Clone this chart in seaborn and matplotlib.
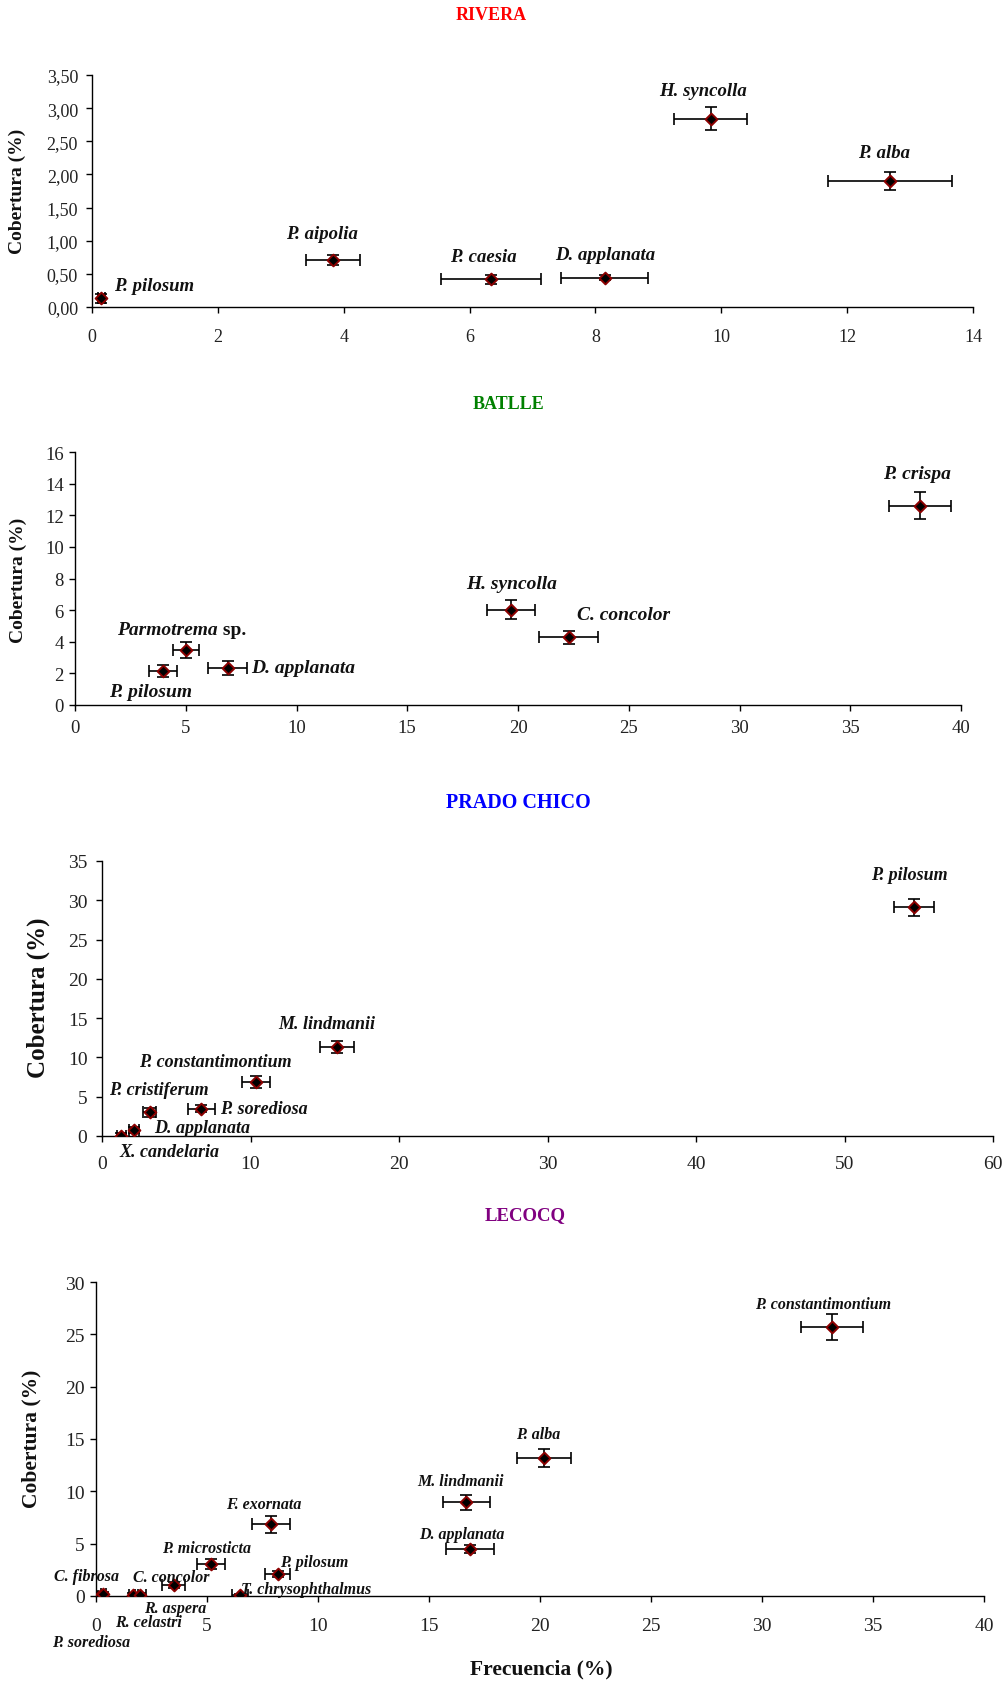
import numpy as np
import pandas as pd
import matplotlib
matplotlib.use("Agg")
import matplotlib.pyplot as plt
import seaborn as sns

# ---------------- data ----------------
riv_species = ["P. pilosum", "P. aipolia", "P. caesia", "D. applanata", "H. syncolla", "P. alba"]
riv_freq = [0.15, 3.83, 6.34, 8.15, 9.83, 12.68]
riv_freq_err = [0.05, 0.43, 0.80, 0.69, 0.58, 0.98]
riv_cov = [0.13, 0.71, 0.42, 0.44, 2.84, 1.90]
riv_cov_err = [0.07, 0.07, 0.07, 0.04, 0.17, 0.13]

bat_species = ["P. pilosum", "Parmotrema sp.", "D. applanata", "H. syncolla", "C. concolor", "P. crispa"]
bat_freq = [3.97, 5.01, 6.90, 19.69, 22.28, 38.13]
bat_freq_err = [0.64, 0.60, 0.88, 1.10, 1.35, 1.40]
bat_cov = [2.17, 3.47, 2.34, 6.03, 4.29, 12.60]
bat_cov_err = [0.37, 0.52, 0.42, 0.61, 0.41, 0.84]

pc_species = ["X. candelaria", "D. applanata", "P. cristiferum", "P. sorediosa",
              "P. constantimontium", "M. lindmanii", "P. pilosum"]
pc_freq = [1.30, 2.15, 3.20, 6.70, 10.35, 15.81, 54.69]
pc_freq_err = [0.30, 0.35, 0.45, 0.90, 0.95, 1.15, 1.36]
pc_cov = [0.05, 0.80, 3.00, 3.50, 6.90, 11.35, 29.10]
pc_cov_err = [0.30, 0.40, 0.58, 0.50, 0.77, 0.80, 1.10]

lec_species = ["P. sorediosa", "C. fibrosa", "R. celastri", "R. aspera", "C. concolor",
               "P. microsticta", "T. chrysophthalmus", "F. exornata", "P. pilosum",
               "M. lindmanii", "D. applanata", "P. alba", "P. constantimontium"]
lec_freq = [0.18, 0.33, 1.68, 2.00, 3.50, 5.18, 6.49, 7.87, 8.18, 16.68, 16.85, 20.17, 33.15]
lec_freq_err = [0.10, 0.12, 0.20, 0.25, 0.51, 0.64, 0.37, 0.86, 0.58, 1.06, 1.10, 1.21, 1.40]
lec_cov = [0.02, 0.15, 0.10, 0.12, 1.06, 3.05, 0.05, 6.85, 2.10, 8.96, 4.49, 13.16, 25.66]
lec_cov_err = [0.10, 0.25, 0.15, 0.15, 0.30, 0.47, 0.10, 0.79, 0.30, 0.73, 0.35, 0.87, 1.24]

titles = ["RIVERA", "BATLLE", "PRADO CHICO", "LECOCQ"]
y_label = "Cobertura (%)"
x_label = "Frecuencia (%)"

# ---------------- layout / style ----------------
# label offsets in pixels (dx, dy up, ha)
riv_lab = [(13, 13, 'left'), (-11, 26, 'center'), (-8, 23, 'center'), (0, 23, 'center'),
           (-8, 28, 'center'), (-6, 29, 'center')]
bat_lab = [(-12, -21, 'center'), (-69, 21, 'left'), (23, 0, 'left'), (0, 26, 'center'),
           (8, 23, 'left'), (-3, 32, 'center')]
pc_lab = [(-2, -16, 'left'), (20, 2, 'left'), (9, 23, 'center'), (19, 0, 'left'),
          (-40, 20, 'center'), (-10, 23, 'center'), (-5, 33, 'center')]
lec_lab = [(-9, -46, 'center'), (-17, 18, 'center'), (15, -27, 'center'), (35, -13, 'center'),
           (-2, 8, 'center'), (-4, 16, 'center'), (1, 6, 'left'), (-7, 20, 'center'),
           (2, 12, 'left'), (-6, 21, 'center'), (-8, 15, 'center'), (-6, 24, 'center'),
           (-9, 23, 'center')]

sns.set_theme(style="ticks")
plt.rcParams['font.family'] = ['Liberation Serif', 'DejaVu Serif']
plt.rcParams['axes.linewidth'] = 1.0

W, H = 1007, 1683
fig = plt.figure(figsize=(W / 100, H / 100), dpi=100)

def frac_box(l, r, t, b):
    return [l / W, 1 - b / H, (r - l) / W, (b - t) / H]

panels = [
    dict(box=frac_box(92, 973, 76, 308), xlim=(0, 14), xstep=2, ylim=(0, 3.5), ystep=0.5,
         fmt=lambda v: f"{v:.2f}".replace('.', ','), names=riv_species, x=riv_freq, xe=riv_freq_err,
         y=riv_cov, ye=riv_cov_err, lab=riv_lab, lsize=13.5, tsize=13, xpad=11, ypad=6,
         title_xy=(491, 15), tcolor="#FF0000", tfs=13, yl_xy=(17, 191), ylfs=14),
    dict(box=frac_box(75, 961, 453, 706), xlim=(0, 40), xstep=5, ylim=(0, 16), ystep=2,
         fmt=lambda v: f"{v:.0f}", names=bat_species, x=bat_freq, xe=bat_freq_err,
         y=bat_cov, ye=bat_cov_err, lab=bat_lab, lsize=14, tsize=13.5, xpad=6, ypad=4,
         title_xy=(509, 405), tcolor="#008000", tfs=13, yl_xy=(18, 580), ylfs=14),
    dict(box=frac_box(102, 993, 862, 1137), xlim=(0, 60), xstep=10, ylim=(0, 35), ystep=5,
         fmt=lambda v: f"{v:.0f}", names=pc_species, x=pc_freq, xe=pc_freq_err,
         y=pc_cov, ye=pc_cov_err, lab=pc_lab, lsize=13, tsize=14, xpad=10, ypad=6.5,
         title_xy=(518, 803), tcolor="#0000FF", tfs=14.5, yl_xy=(38, 998), ylfs=18),
    dict(box=frac_box(96, 984, 1283, 1597), xlim=(0, 40), xstep=5, ylim=(0, 30), ystep=5,
         fmt=lambda v: f"{v:.0f}", names=lec_species, x=lec_freq, xe=lec_freq_err,
         y=lec_cov, ye=lec_cov_err, lab=lec_lab, lsize=11.5, tsize=14, xpad=11, ypad=4,
         title_xy=(525, 1216), tcolor="#800080", tfs=13.5, yl_xy=(31, 1439), ylfs=15.5),
]

for p, title in zip(panels, titles):
    ax = fig.add_axes(p['box'])
    df = pd.DataFrame({"freq": p['x'], "cov": p['y'], "sp": p['names']})
    ax.errorbar(df["freq"], df["cov"], xerr=p['xe'], yerr=p['ye'], fmt='none',
                ecolor='black', elinewidth=1.2, capsize=4, capthick=1.2, zorder=2)
    sns.scatterplot(data=df, x="freq", y="cov", ax=ax, marker='D', s=36, color='black',
                    edgecolor='#8B0000', linewidth=1.4, zorder=3, legend=False)
    ax.set_xlim(*p['xlim'])
    ax.set_ylim(*p['ylim'])
    xt = np.arange(p['xlim'][0], p['xlim'][1] + 1e-9, p['xstep'])
    yt = np.arange(p['ylim'][0], p['ylim'][1] + 1e-9, p['ystep'])
    ax.set_xticks(xt)
    ax.set_xticklabels([f"{v:.0f}" for v in xt])
    ax.set_yticks(yt)
    ax.set_yticklabels([p['fmt'](v) for v in yt])
    ax.set_xlabel("")
    ax.set_ylabel("")
    for s in ['top', 'right']:
        ax.spines[s].set_visible(False)
    for s in ['left', 'bottom']:
        ax.spines[s].set_color('black')
    ax.tick_params(axis='x', direction='out', length=4, width=1, colors='black',
                   labelsize=p['tsize'], pad=p['xpad'], labelcolor='#222222')
    ax.tick_params(axis='y', direction='out', length=4, width=1, colors='black',
                   labelsize=p['tsize'], pad=p['ypad'], labelcolor='#222222')
    for name, x, y, (dx, dy, ha) in zip(p['names'], p['x'], p['y'], p['lab']):
        if name.endswith(" sp."):
            t = ax.annotate(name[:-4], (x, y), xytext=(dx * 0.72, dy * 0.72),
                            textcoords='offset points', ha=ha, va='center',
                            fontsize=p['lsize'], fontweight='bold', fontstyle='italic',
                            color='#111111', annotation_clip=False)
            ax.annotate(" sp.", xy=(1, 0), xycoords=t, ha='left', va='bottom',
                        fontsize=p['lsize'], fontweight='bold', color='#111111',
                        annotation_clip=False)
        else:
            ax.annotate(name, (x, y), xytext=(dx * 0.72, dy * 0.72),
                        textcoords='offset points', ha=ha, va='center',
                        fontsize=p['lsize'], fontweight='bold', fontstyle='italic',
                        color='#111111', annotation_clip=False)
    tx, ty = p['title_xy']
    fig.text(tx / W, 1 - ty / H, title, ha='center', va='center', color=p['tcolor'],
             fontsize=p['tfs'], fontweight='bold')
    lx, ly = p['yl_xy']
    fig.text(lx / W, 1 - ly / H, y_label, ha='center', va='center', rotation=90,
             fontsize=p['ylfs'], fontweight='bold', color='#111111')

fig.text(541 / W, 1 - 1669 / H, x_label, ha='center', va='center', fontsize=15.5,
         fontweight='bold', color='#111111')

fig.savefig("out.png", dpi=100, facecolor='white')
